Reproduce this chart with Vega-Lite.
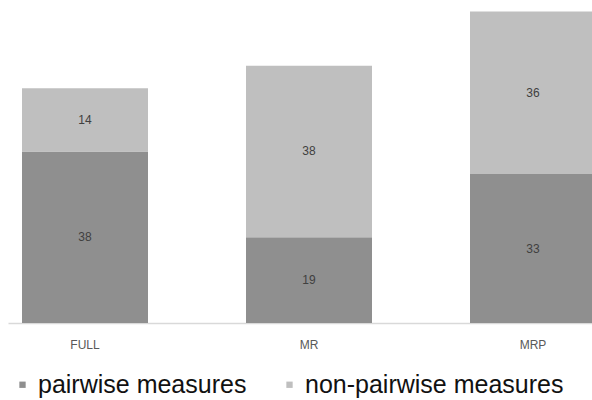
{
  "$schema": "https://vega.github.io/schema/vega-lite/v6.json",
  "width": 584,
  "height": 316,
  "autosize": {"type": "none"},
  "padding": {"left": 8, "top": 7, "right": 0, "bottom": 77},
  "background": "white",
  "config": {"view": {"stroke": null}, "font": "Liberation Sans"},
  "data": {
    "values": [
      {"model": "FULL", "measure": "pairwise measures", "count": 38},
      {"model": "FULL", "measure": "non-pairwise measures", "count": 14},
      {"model": "MR", "measure": "pairwise measures", "count": 19},
      {"model": "MR", "measure": "non-pairwise measures", "count": 38},
      {"model": "MRP", "measure": "pairwise measures", "count": 33},
      {"model": "MRP", "measure": "non-pairwise measures", "count": 36}
    ]
  },
  "transform": [
    {"stack": "count", "groupby": ["model"], "sort": [{"field": "measure", "order": "descending"}], "as": ["lo", "hi"]},
    {"calculate": "(datum.lo + datum.hi) / 2", "as": "mid"}
  ],
  "encoding": {
    "x": {
      "field": "model",
      "type": "nominal",
      "sort": ["FULL", "MR", "MRP"],
      "scale": {"range": [0, 602], "paddingInner": 0.4375, "paddingOuter": 0.0625},
      "axis": {
        "title": null,
        "labelAngle": 0,
        "ticks": false,
        "domainColor": "#d9d9d9",
        "domainWidth": 1.5,
        "labelPadding": 16,
        "labelFontSize": 12,
        "labelColor": "#595959"
      }
    }
  },
  "layer": [
    {
      "mark": {"type": "bar", "clip": true},
      "encoding": {
        "y": {"field": "lo", "type": "quantitative", "scale": {"domain": [0, 70], "nice": false}, "axis": null},
        "y2": {"field": "hi"},
        "color": {
          "field": "measure",
          "type": "nominal",
          "scale": {"domain": ["pairwise measures", "non-pairwise measures"], "range": ["#8f8f8f", "#bfbfbf"]},
          "legend": {
            "title": null,
            "orient": "none",
            "direction": "horizontal",
            "legendX": 2,
            "legendY": 365,
            "symbolType": "square",
            "symbolSize": 40,
            "symbolStrokeWidth": 0,
            "labelFontSize": 25,
            "labelLimit": 400,
            "labelColor": "#111111",
            "labelOffset": 3,
            "columnPadding": 30
          }
        }
      }
    },
    {
      "mark": {"type": "text", "fontSize": 12, "color": "#404040"},
      "encoding": {
        "y": {"field": "mid", "type": "quantitative"},
        "text": {"field": "count", "type": "quantitative"}
      }
    }
  ]
}
